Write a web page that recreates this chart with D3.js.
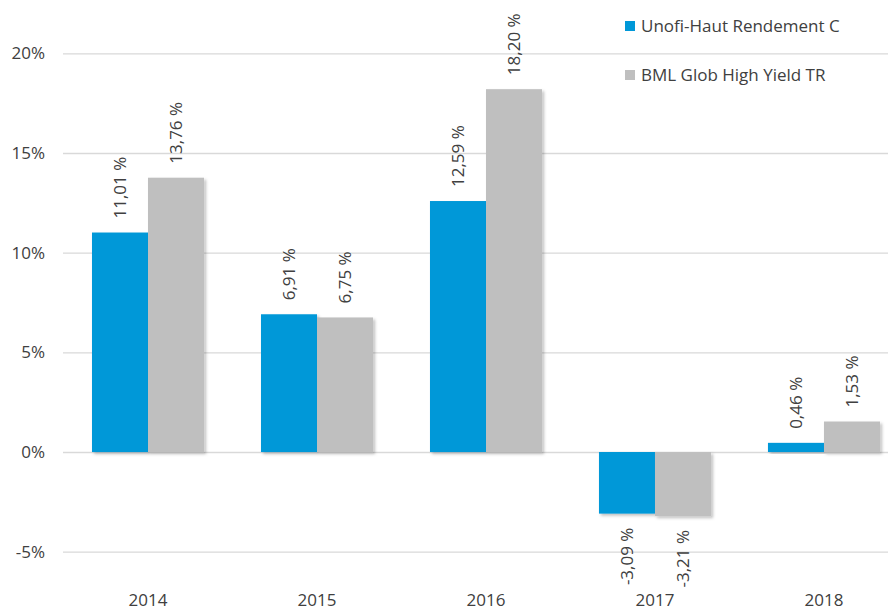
<!DOCTYPE html>
<html>
<head>
<meta charset="utf-8">
<script src="https://cdn.jsdelivr.net/npm/d3@7"></script>
<style>
  body { margin: 0; background: #fff; }
  svg text { font-family: "Open Sans", sans-serif; fill: #404040; }
</style>
</head>
<body>
<div id="chart"></div>
<script>
var years = ["2014", "2015", "2016", "2017", "2018"];
var seriesNames = ["Unofi-Haut Rendement C", "BML Glob High Yield TR"];
var fundValues = [11.01, 6.91, 12.59, -3.09, 0.46];
var benchValues = [13.76, 6.75, 18.20, -3.21, 1.53];
var yTicks = [-5, 0, 5, 10, 15, 20];
var colors = ["#0098d8", "#bfbfbf"];

var width = 888, height = 610;

var data = years.map(function(y, i) {
    return { year: y, values: [
        { key: seriesNames[0], value: fundValues[i] },
        { key: seriesNames[1], value: benchValues[i] }
    ] };
});

var svg = d3.select("#chart").append("svg")
    .attr("width", width)
    .attr("height", height);

var defs = svg.append("defs");
var shadow = defs.append("filter").attr("id", "shadow")
    .attr("x", "-10%").attr("y", "-10%").attr("width", "130%").attr("height", "130%");
shadow.append("feDropShadow")
    .attr("dx", 2).attr("dy", 2).attr("stdDeviation", 1.5)
    .attr("flood-color", "#000").attr("flood-opacity", 0.25);

var y = d3.scaleLinear().domain([-5, 20]).range([551.7, 53.3]);

var x0 = d3.scaleBand().domain(years)
    .range([63.5, 908.5])
    .paddingInner(0.337)
    .paddingOuter(0.1686);

var x1 = d3.scaleBand().domain(seriesNames)
    .range([0, x0.bandwidth()]);

// grid + y labels
var yAxis = svg.append("g")
    .attr("class", "yaxis")
    .attr("transform", "translate(63,0)")
    .call(d3.axisLeft(y).tickValues(yTicks)
        .tickSize(-(width - 63))
        .tickPadding(18)
        .tickFormat(function(d) { return d + "%"; }));
yAxis.select(".domain").remove();
yAxis.selectAll("line").attr("stroke", "#d9d9d9").attr("stroke-width", 1.3);
yAxis.selectAll("text").style("font-size", "17px").attr("fill", "#404040");

// x labels
svg.append("g").attr("class", "xaxis")
    .selectAll("text")
    .data(years)
    .enter().append("text")
    .attr("x", function(d) { return x0(d) + x0.bandwidth() / 2; })
    .attr("y", 606)
    .attr("text-anchor", "middle")
    .style("font-size", "17px")
    .text(function(d) { return d; });

var plot = svg.append("g").attr("class", "plot");

var groups = plot.selectAll("g.group")
    .data(data)
    .enter().append("g")
    .attr("class", "group")
    .attr("transform", function(d) { return "translate(" + x0(d.year) + ",0)"; });

groups.selectAll("rect")
    .data(function(d) { return d.values; })
    .enter().append("rect")
    .attr("x", function(d) { return x1(d.key); })
    .attr("width", x1.bandwidth())
    .attr("y", function(d) { return y(Math.max(0, d.value)); })
    .attr("height", function(d) { return Math.abs(y(d.value) - y(0)); })
    .attr("fill", function(d, i) { return colors[i]; })
    .attr("filter", "url(#shadow)");

var fmt = function(v) { return d3.format(".2f")(v).replace(".", ",").replace("\u2212", "-") + " %"; };

groups.selectAll("text.label")
    .data(function(d) { return d.values; })
    .enter().append("text")
    .attr("class", "label")
    .attr("transform", function(d) {
        var cx = x1(d.key) + x1.bandwidth() / 2;
        var cy = d.value >= 0 ? y(d.value) - 14 : y(d.value) + 14;
        return "translate(" + cx + "," + cy + ") rotate(-90)";
    })
    .attr("text-anchor", function(d) { return d.value >= 0 ? "start" : "end"; })
    .attr("dy", "0.35em")
    .style("font-size", "17px")
    .text(function(d) { return fmt(d.value); });

// legend
var legend = svg.append("g").attr("class", "legend");
var legendY = [26, 75];
seriesNames.forEach(function(name, i) {
    legend.append("rect")
        .attr("x", 625).attr("y", legendY[i] - 5)
        .attr("width", 10).attr("height", 10)
        .attr("fill", colors[i]);
    legend.append("text")
        .attr("x", 641).attr("y", legendY[i])
        .attr("dy", "0.35em")
        .style("font-size", "17px")
        .text(name);
});
</script>
</body>
</html>
